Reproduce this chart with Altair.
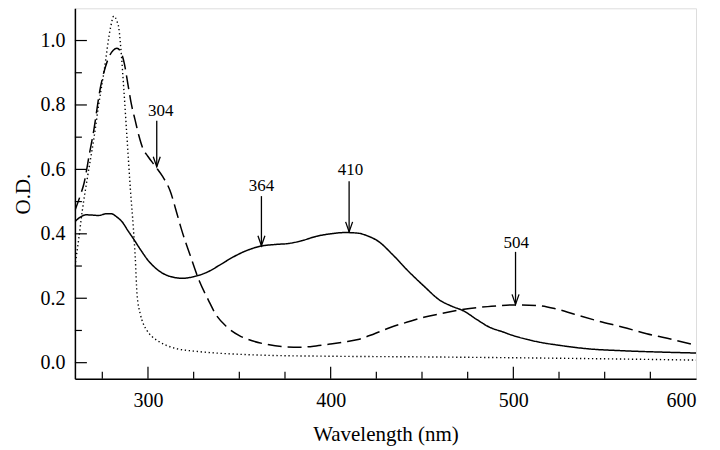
import altair as alt
import pandas as pd

# ---- data ----
solid_x = [260, 263, 266, 270, 273, 277, 280, 283, 286, 289, 292, 296, 300, 306, 312, 319, 325, 332, 339, 346,
           354, 362, 370, 377, 385, 392, 400, 408, 415, 420, 426, 434, 442, 451, 460, 466, 473, 480, 487, 494,
           500, 507, 514, 525, 541, 560, 580, 600]
solid_y = [0.438, 0.452, 0.459, 0.458, 0.457, 0.462, 0.462, 0.452, 0.436, 0.410, 0.385, 0.350, 0.318, 0.285,
           0.268, 0.262, 0.267, 0.280, 0.302, 0.326, 0.348, 0.362, 0.367, 0.370, 0.380, 0.392, 0.400, 0.404,
           0.402, 0.394, 0.377, 0.335, 0.287, 0.238, 0.193, 0.176, 0.160, 0.134, 0.110, 0.096, 0.084, 0.073,
           0.064, 0.054, 0.043, 0.037, 0.033, 0.030]

dashed_x = [260, 263, 265, 268, 270, 274, 278, 281, 283, 285, 287, 289, 291, 293, 295, 297, 300, 304, 308, 312,
            316, 318, 323, 328, 333, 337, 343, 350, 357, 364, 373, 383, 392, 400, 408, 415, 424, 433, 442, 451,
            462, 473, 486, 500, 514, 524, 533, 546, 560, 573, 587, 600]
dashed_y = [0.472, 0.520, 0.557, 0.650, 0.710, 0.855, 0.940, 0.970, 0.976, 0.966, 0.930, 0.865, 0.800, 0.752,
            0.705, 0.668, 0.640, 0.610, 0.578, 0.535, 0.460, 0.420, 0.335, 0.255, 0.195, 0.151, 0.112, 0.084,
            0.068, 0.058, 0.050, 0.048, 0.052, 0.058, 0.065, 0.072, 0.090, 0.110, 0.126, 0.141, 0.154, 0.166,
            0.174, 0.179, 0.177, 0.166, 0.151, 0.130, 0.110, 0.090, 0.072, 0.054]

dotted_x = [260, 262, 264, 267, 270.5, 273, 276, 279.5, 281.3, 283, 284, 285.5, 286.7, 288.5, 290.4, 292, 293,
            294, 295.8, 297.5, 299.4, 302, 305, 310, 316, 325, 337, 350, 364, 400, 450, 505, 550, 600]
dotted_y = [0.300, 0.380, 0.470, 0.580, 0.700, 0.800, 0.906, 1.040, 1.076, 1.060, 1.040, 0.950, 0.855, 0.700,
            0.536, 0.418, 0.330, 0.213, 0.151, 0.120, 0.100, 0.082, 0.069, 0.054, 0.043, 0.036, 0.030, 0.026,
            0.023, 0.020, 0.018, 0.015, 0.012, 0.008]

# annotations: label text, arrow x, arrow top, arrow tip, label x, label y
ann_text = ["304", "364", "410", "504"]
ann_x = [304.8, 362.1, 410.1, 501.2]
ann_top = [0.751, 0.517, 0.563, 0.344]
ann_tip = [0.608, 0.363, 0.406, 0.181]
ann_lx = [307.0, 362.1, 410.8, 501.6]
ann_ly = [0.773, 0.538, 0.588, 0.363]

x_major = [300, 400, 500, 600]
x_minor = [275, 325, 350, 375, 425, 450, 475, 525, 550, 575]
y_major = [0.0, 0.2, 0.4, 0.6, 0.8, 1.0]
y_minor = [0.1, 0.3, 0.5, 0.7, 0.9]

W, H = 622, 371
FONT = "Liberation Serif"

xs = alt.Scale(domain=[260, 600], nice=False, zero=False)
ys = alt.Scale(domain=[-0.05, 1.1], nice=False, zero=False)

curves = pd.concat([
    pd.DataFrame({"x": solid_x, "y": solid_y, "s": "solid"}),
    pd.DataFrame({"x": dashed_x, "y": dashed_y, "s": "dashed"}),
    pd.DataFrame({"x": dotted_x, "y": dotted_y, "s": "dotted"}),
])

xaxis = alt.Axis(values=x_major, ticks=False, grid=False, domainColor="black", domainWidth=1.5,
                 labelFont=FONT, labelFontSize=20, labelColor="black", labelPadding=12,
                 title="Wavelength (nm)", titleFont=FONT, titleFontSize=21, titleFontWeight="normal",
                 titleColor="black", titlePadding=13)
yaxis = alt.Axis(values=y_major, format=".1f", ticks=False, grid=False, domainColor="black", domainWidth=1.5,
                 labelFont=FONT, labelFontSize=20, labelColor="black", labelPadding=10,
                 title="O.D.", titleFont=FONT, titleFontSize=21, titleFontWeight="normal",
                 titleColor="black", titlePadding=6)


def line_layer(name, dash, width):
    return alt.Chart(curves).transform_filter(alt.datum.s == name).mark_line(
        color="black", strokeWidth=width, strokeDash=dash, interpolate="monotone", clip=True
    ).encode(x=alt.X("x:Q", scale=xs, axis=xaxis), y=alt.Y("y:Q", scale=ys, axis=yaxis), order="x:Q")


solid = line_layer("solid", [1, 0], 1.5)
dashed = line_layer("dashed", [14, 6], 1.5)
dotted = line_layer("dotted", [1.3, 2.7], 1.4)

xmaj = alt.Chart(pd.DataFrame({"v": x_major[:-1]})).mark_rule(color="black", strokeWidth=1.2).encode(
    x=alt.X("v:Q", scale=xs), y=alt.value(H), y2=alt.value(H - 12))
xmin = alt.Chart(pd.DataFrame({"v": x_minor})).mark_rule(color="black", strokeWidth=1.2).encode(
    x=alt.X("v:Q", scale=xs), y=alt.value(H), y2=alt.value(H - 7))
ymaj = alt.Chart(pd.DataFrame({"v": y_major})).mark_rule(color="black", strokeWidth=1.2).encode(
    y=alt.Y("v:Q", scale=ys), x=alt.value(0), x2=alt.value(12))
ymin = alt.Chart(pd.DataFrame({"v": y_minor})).mark_rule(color="black", strokeWidth=1.2).encode(
    y=alt.Y("v:Q", scale=ys), x=alt.value(0), x2=alt.value(7))

ann = pd.DataFrame({"t": ann_text, "x": ann_x, "top": ann_top, "tip": ann_tip, "lx": ann_lx, "ly": ann_ly})
arrows = alt.Chart(ann).mark_rule(color="black", strokeWidth=1.3).encode(
    x=alt.X("x:Q", scale=xs), y=alt.Y("top:Q", scale=ys), y2="tip:Q")
heads = alt.Chart(ann).mark_point(shape="M-0.7,-2L0,0L0.7,-2", size=100, filled=False, color="black",
                                  strokeWidth=1.3, opacity=1).encode(
    x=alt.X("x:Q", scale=xs), y=alt.Y("tip:Q", scale=ys))
labels = alt.Chart(ann).mark_text(font=FONT, fontSize=17, color="black", baseline="bottom", dy=6).encode(
    x=alt.X("lx:Q", scale=xs), y=alt.Y("ly:Q", scale=ys), text="t:N")

chart = alt.layer(solid, dashed, dotted, xmaj, xmin, ymaj, ymin, arrows, heads, labels).properties(
    width=W, height=H,
    autosize=alt.AutoSizeParams(type="none"),
    padding={"left": 67, "top": 0, "right": 16, "bottom": 70},
).configure_view(stroke="black", strokeWidth=1.2).configure(background="white")

chart.save("out.html", embed_options={"renderer": "svg", "actions": False})
